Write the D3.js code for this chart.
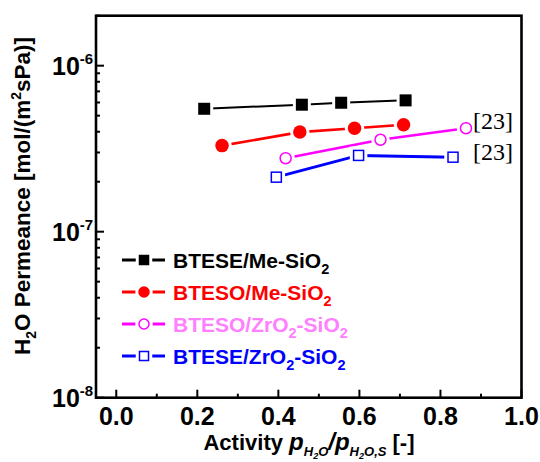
<!DOCTYPE html>
<html><head><meta charset="utf-8">
<script src="https://cdn.jsdelivr.net/npm/d3@7/dist/d3.min.js"></script>
<style>body{margin:0;background:#fff}svg{display:block}</style>
</head><body>
<script>
// ---- data ----
const seriesNames = ["BTESE/Me-SiO2", "BTESO/Me-SiO2", "BTESO/ZrO2-SiO2", "BTESE/ZrO2-SiO2"];
const btese_me_x = [0.217, 0.458, 0.555, 0.714];
const btese_me_y = [5.5e-7, 5.82e-7, 5.98e-7, 6.18e-7];
const bteso_me_x = [0.261, 0.453, 0.588, 0.709];
const bteso_me_y = [3.3e-7, 3.98e-7, 4.2e-7, 4.41e-7];
const bteso_zr_x = [0.418, 0.652, 0.863];
const bteso_zr_y = [2.77e-7, 3.58e-7, 4.2e-7];
const btese_zr_x = [0.395, 0.598, 0.831];
const btese_zr_y = [2.13e-7, 2.88e-7, 2.81e-7];
const xTickLabels = ["0.0", "0.2", "0.4", "0.6", "0.8", "1.0"];
const xTicks = [0, 0.2, 0.4, 0.6, 0.8, 1.0];
const yTicks = [1e-8, 1e-7, 1e-6];
const yTickExps = ["-8", "-7", "-6"];
const refLabels = ["[23]", "[23]"];

const W = 540, H = 462;
const svg = d3.select("body").append("svg").attr("width", W).attr("height", H);
const L = 96, R = 521.5, T = 15.7, B = 397.7;
const x = d3.scaleLinear().domain([-0.05, 1.0]).range([L, R]);
const y = d3.scaleLog().domain([1e-8, 2e-6]).range([B, T]);
const SANS = "'Liberation Sans', Arial, sans-serif";

// minor ticks
const xMinor = [0.1, 0.3, 0.5, 0.7, 0.9];
const yMinor = [];
[1e-8, 1e-7, 1e-6].forEach(d => { for (let k = 2; k <= 9; k++) { const v = d * k; if (v <= 2e-6) yMinor.push(v); } });

const g = svg.append("g");
g.selectAll(".xmaj").data(xTicks).join("line")
  .attr("x1", d => x(d)).attr("x2", d => x(d)).attr("y1", B).attr("y2", B - 8)
  .attr("stroke", "#000").attr("stroke-width", 2);
g.selectAll(".xmin").data(xMinor).join("line")
  .attr("x1", d => x(d)).attr("x2", d => x(d)).attr("y1", B).attr("y2", B - 4)
  .attr("stroke", "#000").attr("stroke-width", 2);
g.selectAll(".ymaj").data(yTicks).join("line")
  .attr("x1", L).attr("x2", L + 8).attr("y1", d => y(d)).attr("y2", d => y(d))
  .attr("stroke", "#000").attr("stroke-width", 2);
g.selectAll(".ymin").data(yMinor).join("line")
  .attr("x1", L).attr("x2", L + 4).attr("y1", d => y(d)).attr("y2", d => y(d))
  .attr("stroke", "#000").attr("stroke-width", 2);
svg.append("rect").attr("x", L).attr("y", T).attr("width", R - L).attr("height", B - T)
  .attr("fill", "none").attr("stroke", "#000").attr("stroke-width", 2.6);

svg.selectAll(".xl").data(xTicks).join("text")
  .attr("x", d => x(d)).attr("y", 425).attr("text-anchor", "middle")
  .attr("font-family", SANS).attr("font-weight", "bold").attr("font-size", 25)
  .text((d, i) => xTickLabels[i]);
yTicks.forEach((d, i) => {
  const t = svg.append("text").attr("x", 52).attr("y", y(d) + 9)
    .attr("font-family", SANS).attr("font-weight", "bold").attr("font-size", 25);
  t.append("tspan").text("10");
  t.append("tspan").attr("font-size", 15).attr("dy", -11).text(yTickExps[i]);
});

const yl = svg.append("text").attr("transform", "translate(30,196) rotate(-90)")
  .attr("text-anchor", "middle").attr("font-family", SANS).attr("font-weight", "bold").attr("font-size", 22.5);
yl.append("tspan").text("H");
yl.append("tspan").attr("font-size", 14).attr("dy", 6).text("2");
yl.append("tspan").attr("dy", -6).text("O Permeance [mol/(m");
yl.append("tspan").attr("font-size", 14).attr("dy", -9).text("2");
yl.append("tspan").attr("dy", 9).text("sPa)]");

const xl = svg.append("text").attr("x", 309).attr("y", 450).attr("text-anchor", "middle")
  .attr("font-family", SANS).attr("font-weight", "bold").attr("font-size", 22);
xl.append("tspan").text("Activity ");
xl.append("tspan").attr("font-style", "italic").attr("font-size", 24).text("p");
xl.append("tspan").attr("font-style", "italic").attr("font-size", 13).attr("dy", 6).text("H");
xl.append("tspan").attr("font-style", "italic").attr("font-size", 9).attr("dy", 3).text("2");
xl.append("tspan").attr("font-style", "italic").attr("font-size", 13).attr("dy", -3).text("O");
xl.append("tspan").attr("font-style", "italic").attr("font-size", 24).attr("dy", -6).text("/p");
xl.append("tspan").attr("font-style", "italic").attr("font-size", 13).attr("dy", 6).text("H");
xl.append("tspan").attr("font-style", "italic").attr("font-size", 9).attr("dy", 3).text("2");
xl.append("tspan").attr("font-style", "italic").attr("font-size", 13).attr("dy", -3).text("O,S");
xl.append("tspan").attr("dy", -6).text(" [-]");

const series = [
  { xs: btese_me_x, ys: btese_me_y, color: "#000", text: "#000", lw: 2, shape: "square", fill: true, size: 12 },
  { xs: bteso_me_x, ys: bteso_me_y, color: "#ff0000", text: "#ff0000", lw: 2.6, shape: "circle", fill: true, size: 13.5 },
  { xs: bteso_zr_x, ys: bteso_zr_y, color: "#ff00ff", text: "#ff80ff", lw: 2.6, shape: "circle", fill: false, size: 12.5 },
  { xs: btese_zr_x, ys: btese_zr_y, color: "#0000ff", text: "#0000ff", lw: 3, shape: "square", fill: false, size: 11.5 },
];

function marker(sel, s, cx, cy, size, halo) {
  if (s.shape === "square") {
    sel.append("rect").attr("x", cx - size / 2 - halo).attr("y", cy - size / 2 - halo)
      .attr("width", size + 2 * halo).attr("height", size + 2 * halo).attr("fill", "#fff");
    sel.append("rect").attr("x", cx - size / 2 + (s.fill ? 0 : 0.75)).attr("y", cy - size / 2 + (s.fill ? 0 : 0.75))
      .attr("width", size - (s.fill ? 0 : 1.5)).attr("height", size - (s.fill ? 0 : 1.5))
      .attr("fill", s.fill ? s.color : "#fff").attr("stroke", s.fill ? "none" : s.color).attr("stroke-width", 1.5);
  } else {
    sel.append("circle").attr("cx", cx).attr("cy", cy).attr("r", size / 2 + halo).attr("fill", "#fff");
    sel.append("circle").attr("cx", cx).attr("cy", cy).attr("r", size / 2 - (s.fill ? 0 : 0.75))
      .attr("fill", s.fill ? s.color : "#fff").attr("stroke", s.fill ? "none" : s.color).attr("stroke-width", 1.5);
  }
}

const line = d3.line().x(d => x(d[0])).y(d => y(d[1]));
series.forEach(s => {
  const pts = s.xs.map((v, i) => [v, s.ys[i]]);
  svg.append("path").attr("d", line(pts)).attr("fill", "none").attr("stroke", s.color).attr("stroke-width", s.lw);
  const mg = svg.append("g");
  pts.forEach(p => marker(mg, s, x(p[0]), y(p[1]), s.size, 3));
});

const SERIF = "'Liberation Serif', 'Times New Roman', serif";
svg.append("text").attr("x", 473).attr("y", y(bteso_zr_y[2]) + 1).attr("font-family", SERIF)
  .attr("font-size", 24).text(refLabels[0]);
svg.append("text").attr("x", 473).attr("y", y(btese_zr_y[2]) + 3).attr("font-family", SERIF)
  .attr("font-size", 24).text(refLabels[1]);

const legY = [260, 292, 324, 356];
const legParts = [
  [["BTESE/Me-SiO", 0], ["2", 1]],
  [["BTESO/Me-SiO", 0], ["2", 1]],
  [["BTESO/ZrO", 0], ["2", 1], ["-SiO", 0], ["2", 1]],
  [["BTESE/ZrO", 0], ["2", 1], ["-SiO", 0], ["2", 1]],
];
series.forEach((s, i) => {
  const ly = legY[i];
  const lg = svg.append("g");
  lg.append("line").attr("x1", 122).attr("x2", 165).attr("y1", ly).attr("y2", ly)
    .attr("stroke", s.color).attr("stroke-width", 3);
  marker(lg, s, 144, ly, s.shape === "square" ? 10.5 : 11.5, 3);
  const t = lg.append("text").attr("x", 173).attr("y", ly + 7.5).attr("fill", s.text)
    .attr("font-family", SANS).attr("font-weight", "bold").attr("font-size", 21);
  let cur = 0;
  legParts[i].forEach(([txt, sub]) => {
    const dy = sub ? 6 : 0;
    t.append("tspan").attr("dy", dy - cur).attr("font-size", sub ? 14.5 : 21).text(txt);
    cur = dy;
  });
});
</script>
</body></html>
